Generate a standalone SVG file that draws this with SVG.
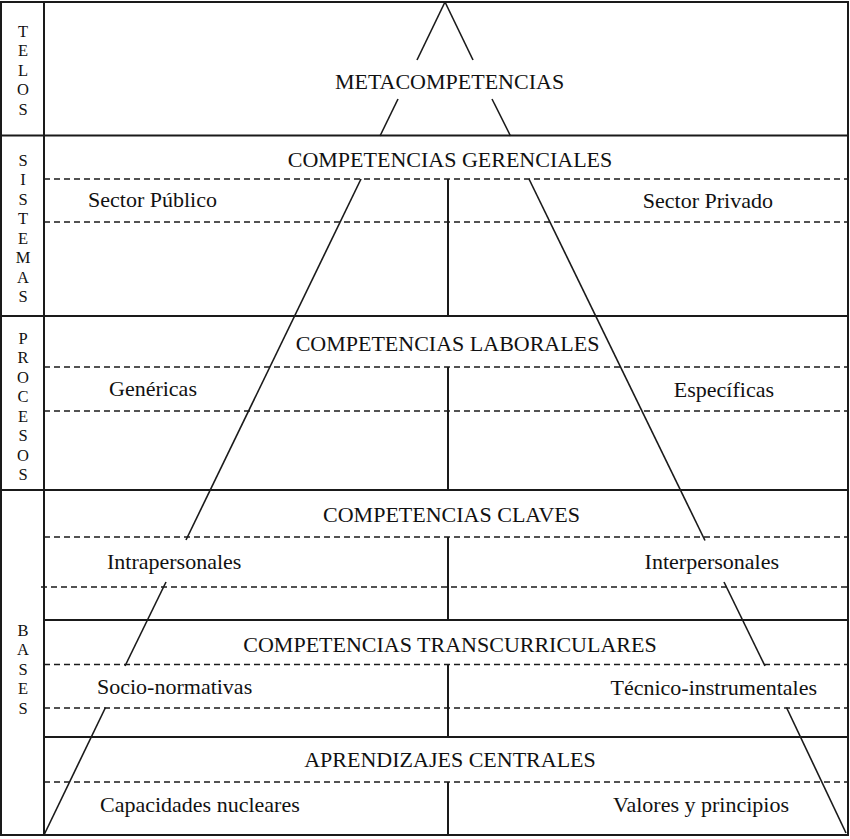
<svg xmlns="http://www.w3.org/2000/svg" width="850" height="839" viewBox="0 0 850 839">
<style>
.frame{fill:none;stroke:#1a1a1a;stroke-width:2}
.solid{stroke:#1a1a1a;stroke-width:2;fill:none}
.dash{stroke:#1a1a1a;stroke-width:1.5;stroke-dasharray:6 4;fill:none}
.pyr{stroke:#1a1a1a;stroke-width:1.6;fill:none}
.t{font-family:"Liberation Serif","Times New Roman",serif;font-size:22px;fill:#111}
.c{text-anchor:middle}
.e{text-anchor:end}
.side{font-family:"Liberation Serif","Times New Roman",serif;font-size:16.5px;fill:#111;text-anchor:middle}
</style>
<rect width="850" height="839" fill="#fff"/>
<g id="frame">
<rect class="frame" x="1" y="2" width="847" height="833"/>
<line class="solid" x1="44" y1="2" x2="44" y2="835"/>
<line class="solid" x1="1" y1="135.5" x2="848" y2="135.5"/>
<line class="solid" x1="1" y1="316" x2="848" y2="316"/>
<line class="solid" x1="1" y1="490" x2="848" y2="490"/>
</g>
<g id="side-telos">
<text class="side" x="23" y="36.5">T</text><text class="side" x="23" y="56">E</text><text class="side" x="23" y="75.5">L</text><text class="side" x="23" y="95">O</text><text class="side" x="23" y="114.5">S</text>
</g>
<g id="side-sistemas">
<text class="side" x="23" y="165.5">S</text><text class="side" x="23" y="185">I</text><text class="side" x="23" y="204.5">S</text><text class="side" x="23" y="224">T</text><text class="side" x="23" y="243.5">E</text><text class="side" x="23" y="263">M</text><text class="side" x="23" y="282.5">A</text><text class="side" x="23" y="302">S</text>
</g>
<g id="side-procesos">
<text class="side" x="23" y="343.5">P</text><text class="side" x="23" y="363">R</text><text class="side" x="23" y="382.5">O</text><text class="side" x="23" y="402">C</text><text class="side" x="23" y="421.5">E</text><text class="side" x="23" y="441">S</text><text class="side" x="23" y="460.5">O</text><text class="side" x="23" y="480">S</text>
</g>
<g id="side-bases">
<text class="side" x="23" y="635.5">B</text><text class="side" x="23" y="655">A</text><text class="side" x="23" y="674.5">S</text><text class="side" x="23" y="694">E</text><text class="side" x="23" y="713.5">S</text>
</g>
<g id="metacompetencias">
<text class="t c" x="449.5" y="89">METACOMPETENCIAS</text>
</g>
<g id="gerenciales">
<line class="dash" x1="44" y1="179" x2="848" y2="179"/>
<line class="dash" x1="44" y1="222" x2="848" y2="222"/>
<line class="solid" x1="448" y1="179" x2="448" y2="316"/>
<text class="t c" x="450" y="166.5">COMPETENCIAS GERENCIALES</text>
<text class="t" x="88" y="207">Sector Público</text>
<text class="t e" x="773" y="208">Sector Privado</text>
</g>
<g id="laborales">
<line class="dash" x1="44" y1="367" x2="848" y2="367"/>
<line class="dash" x1="44" y1="411" x2="848" y2="411"/>
<line class="solid" x1="448" y1="367" x2="448" y2="490"/>
<text class="t c" x="447.5" y="351">COMPETENCIAS LABORALES</text>
<text class="t" x="109" y="396">Genéricas</text>
<text class="t e" x="774" y="397">Específicas</text>
</g>
<g id="claves">
<line class="dash" x1="44" y1="537" x2="848" y2="537"/>
<line class="dash" x1="41" y1="587" x2="848" y2="587"/>
<line class="solid" x1="448" y1="537" x2="448" y2="620"/>
<text class="t c" x="451.5" y="522">COMPETENCIAS CLAVES</text>
<text class="t" x="107" y="569">Intrapersonales</text>
<text class="t e" x="779" y="569">Interpersonales</text>
</g>
<g id="transcurriculares">
<line class="solid" x1="44" y1="620" x2="848" y2="620"/>
<line class="dash" x1="44" y1="664.5" x2="848" y2="664.5"/>
<line class="dash" x1="44" y1="708" x2="848" y2="708"/>
<line class="solid" x1="448" y1="664.5" x2="448" y2="737"/>
<text class="t c" x="450" y="652">COMPETENCIAS TRANSCURRICULARES</text>
<text class="t" x="97" y="694">Socio-normativas</text>
<text class="t e" x="817" y="695">Técnico-instrumentales</text>
</g>
<g id="aprendizajes">
<line class="solid" x1="44" y1="737" x2="848" y2="737"/>
<line class="dash" x1="44" y1="782" x2="848" y2="782"/>
<line class="solid" x1="448" y1="782" x2="448" y2="835"/>
<text class="t c" x="450" y="767">APRENDIZAJES CENTRALES</text>
<text class="t" x="100" y="812">Capacidades nucleares</text>
<text class="t e" x="789" y="812">Valores y principios</text>
</g>
<g id="connectors">
<line class="pyr" x1="445" y1="2" x2="417" y2="60"/>
<line class="pyr" x1="398" y1="99" x2="380" y2="136"/>
<line class="pyr" x1="361" y1="179" x2="186" y2="540"/>
<line class="pyr" x1="166" y1="582" x2="125" y2="666"/>
<line class="pyr" x1="105.5" y1="707.5" x2="44" y2="835"/>
<line class="pyr" x1="445" y1="2" x2="473" y2="60"/>
<line class="pyr" x1="492" y1="99" x2="510.5" y2="136"/>
<line class="pyr" x1="529" y1="179" x2="705" y2="540.5"/>
<line class="pyr" x1="724" y1="582" x2="765" y2="666"/>
<line class="pyr" x1="786.5" y1="707.5" x2="846" y2="833"/>
</g>
</svg>
